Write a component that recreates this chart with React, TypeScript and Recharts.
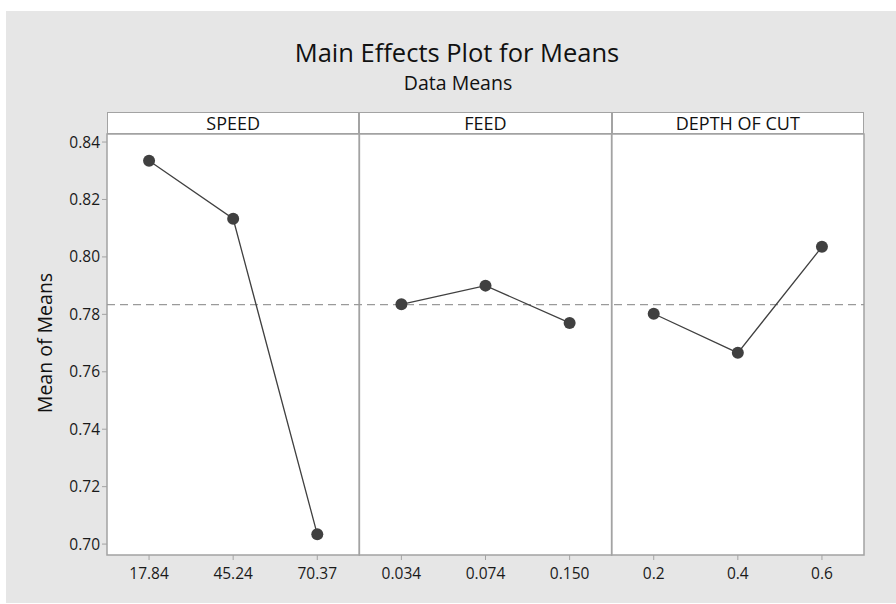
import React from 'react';
import { LineChart, Line, XAxis, YAxis, CartesianGrid, ReferenceLine, ReferenceArea } from 'recharts';

const FACTORS = ['SPEED', 'FEED', 'DEPTH OF CUT'];

const SPEED_LEVELS = ['17.84', '45.24', '70.37'];
const SPEED_MEANS = [0.8335, 0.8133, 0.7034];

const FEED_LEVELS = ['0.034', '0.074', '0.150'];
const FEED_MEANS = [0.7835, 0.79, 0.777];

const DEPTH_LEVELS = ['0.2', '0.4', '0.6'];
const DEPTH_MEANS = [0.7802, 0.7666, 0.8035];

const Y_TICKS = [0.7, 0.72, 0.74, 0.76, 0.78, 0.8, 0.82, 0.84];

const KEYS = ['speed', 'feed', 'depth'];
const LEVELS = [SPEED_LEVELS, FEED_LEVELS, DEPTH_LEVELS];
const MEANS = [SPEED_MEANS, FEED_MEANS, DEPTH_MEANS];

// one row per level; each factor only fills its own three rows so the lines break between panels
const rows = LEVELS.flatMap((levels, f) =>
  levels.map((level, i) => {
    const row: Record<string, string | number | null> = { level, speed: null, feed: null, depth: null };
    row[KEYS[f]] = MEANS[f][i];
    return row;
  })
);

const grandMean = SPEED_MEANS.reduce((a, b) => a + b, 0) / SPEED_MEANS.length;

const W = 896;
const H = 604;
const PLOT_L = 107;
const PLOT_R = 864;
const PLOT_T = 134;
const PLOT_B = 555;
const PANEL_W = (PLOT_R - PLOT_L) / 3;

const FONT = '"Open Sans", "Noto Sans", sans-serif';
const BORDER = '#a3a3a3';
const INK = '#404040';

export default function App() {
  return (
    <div style={{ position: 'absolute', left: 0, top: 0, width: W, height: H, background: '#fff', fontFamily: FONT }}>
      <div style={{ position: 'absolute', left: 6, top: 11, width: W - 6, height: 592, background: '#e6e6e6' }} />

      <div style={{ position: 'absolute', left: 457, top: 35, transform: 'translateX(-50%)', whiteSpace: 'nowrap', fontSize: 25.5, color: '#111', lineHeight: '34px' }}>
        Main Effects Plot for Means
      </div>
      <div style={{ position: 'absolute', left: 458, top: 70, transform: 'translateX(-50%)', whiteSpace: 'nowrap', fontSize: 19.5, color: '#111', lineHeight: '26px' }}>
        Data Means
      </div>

      {FACTORS.map((name, i) => (
        <div
          key={name}
          style={{
            position: 'absolute',
            left: PLOT_L + i * PANEL_W,
            top: 112,
            width: PANEL_W,
            height: PLOT_T - 112,
            boxSizing: 'border-box',
            border: `1.5px solid ${BORDER}`,
            background: '#fff',
            textAlign: 'center',
            fontSize: 18,
            lineHeight: '20px',
            color: '#111',
          }}
        >
          {name}
        </div>
      ))}

      <div
        style={{
          position: 'absolute',
          left: 44,
          top: 343,
          transform: 'translate(-50%, -50%) rotate(-90deg)',
          whiteSpace: 'nowrap',
          fontSize: 19.5,
          color: '#111',
        }}
      >
        Mean of Means
      </div>

      <div style={{ position: 'absolute', left: 0, top: 0 }}>
        <LineChart width={W} height={H} data={rows} margin={{ top: PLOT_T, right: W - PLOT_R, bottom: 0, left: 0 }}>
          <CartesianGrid horizontal={false} vertical={false} fill="#fff" />
          {FACTORS.map((name, i) => (
            <ReferenceArea
              key={name}
              x1={LEVELS[i][0]}
              x2={LEVELS[i][2]}
              fill="none"
              fillOpacity={0}
              stroke={BORDER}
              strokeWidth={1.5}
            />
          ))}
          <XAxis
            dataKey="level"
            scale="band"
            height={H - PLOT_B}
            axisLine={false}
            tickLine={{ stroke: BORDER }}
            tickSize={5}
            tickMargin={8}
            tick={{ fill: '#1a1a1a', fontSize: 15.5, fontFamily: FONT }}
          />
          <YAxis
            width={PLOT_L}
            domain={[0.6962, 0.8428]}
            ticks={Y_TICKS}
            tickFormatter={(v: number) => v.toFixed(2)}
            axisLine={false}
            tickLine={{ stroke: BORDER }}
            tickSize={5}
            tickMargin={2}
            tick={{ fill: '#1a1a1a', fontSize: 15.5, fontFamily: FONT }}
          />
          <ReferenceLine y={grandMean} stroke="#9a9a9a" strokeWidth={1.3} strokeDasharray="8 5" />
          {KEYS.map((k) => (
            <Line
              key={k}
              dataKey={k}
              stroke={INK}
              strokeWidth={1.3}
              dot={{ r: 6, fill: INK, stroke: INK, strokeWidth: 0 }}
              activeDot={false}
              isAnimationActive={false}
            />
          ))}
        </LineChart>
      </div>
    </div>
  );
}
